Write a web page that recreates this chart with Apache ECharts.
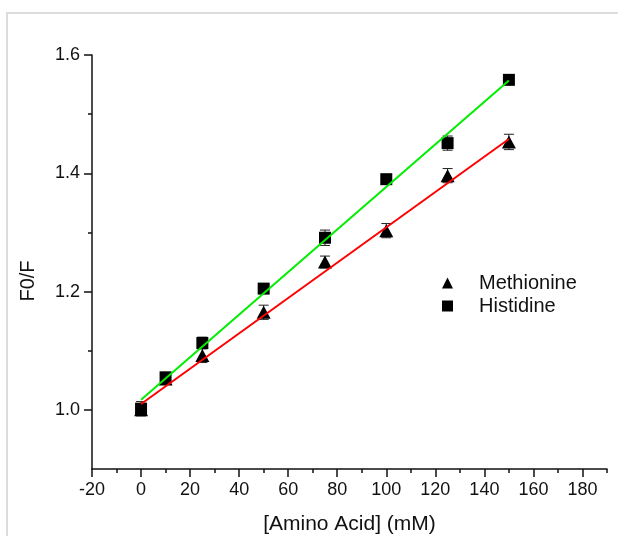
<!DOCTYPE html>
<html>
<head>
<meta charset="utf-8">
<script src="https://cdn.jsdelivr.net/npm/echarts@6/dist/echarts.min.js"></script>
<style>
  html, body { margin: 0; padding: 0; background: #fff; }
  #chart { width: 618px; height: 536px; }
</style>
</head>
<body>
<div id="chart"></div>
<script>
// concentrations (mM)
var conc = [0, 10, 25, 50, 75, 100, 125, 150];
var methionine = [1.0, 1.052, 1.092, 1.165, 1.250, 1.303, 1.396, 1.453];
var methErr = [0.010, 0.008, 0.012, 0.012, 0.010, 0.012, 0.012, 0.013];
var histidine = [1.002, 1.055, 1.113, 1.205, 1.291, 1.390, 1.451, 1.558];
var histErr = [0.012, 0.008, 0.010, 0.008, 0.013, 0.007, 0.012, 0.006];

// linear fits, drawn between the end concentrations
var fitX = [0, 150];
var methFit = [1.010, 1.458];
var histFit = [1.017, 1.557];

// tick values
var xMajor = [-20, 0, 20, 40, 60, 80, 100, 120, 140, 160, 180];
var xMinor = [-10, 10, 30, 50, 70, 90, 110, 130, 150, 170, 190];
var yMajor = [1.0, 1.2, 1.4, 1.6];
var yMinor = [1.1, 1.3, 1.5];

var font = '"Liberation Sans", Arial, sans-serif';
var chart = echarts.init(document.getElementById('chart'));

function pairs(xs, ys) {
    return xs.map(function (x, i) { return [x, ys[i]]; });
}
function errData(xs, ys, es) {
    return xs.map(function (x, i) { return [x, ys[i] - es[i], ys[i] + es[i]]; });
}
function errorBars(params, api) {
    var lo = api.coord([api.value(0), api.value(1)]);
    var hi = api.coord([api.value(0), api.value(2)]);
    var w = 5;
    var st = { stroke: '#222', lineWidth: 1 };
    return {
        type: 'group',
        children: [
            { type: 'line', shape: { x1: lo[0], y1: lo[1], x2: hi[0], y2: hi[1] }, style: st },
            { type: 'line', shape: { x1: lo[0] - w, y1: lo[1], x2: lo[0] + w, y2: lo[1] }, style: st },
            { type: 'line', shape: { x1: hi[0] - w, y1: hi[1], x2: hi[0] + w, y2: hi[1] }, style: st }
        ]
    };
}

var axisLine = { onZero: false, lineStyle: { color: '#111', width: 1.5 } };
var labelStyle = { color: '#111', fontFamily: font, fontSize: 18 };
var tickLine = { color: '#111', width: 1.5 };

chart.setOption({
    backgroundColor: '#fff',
    animation: false,
    grid: { left: 92, right: 11, top: 55, bottom: 67, outerBoundsMode: 'none' },
    graphic: [
        {
            type: 'rect', z: -1,
            shape: { x: 7, y: 13, width: 700, height: 600 },
            style: { fill: null, stroke: '#dcdcdc', lineWidth: 2 }
        },
        {
            type: 'text', x: 28, y: 281, rotation: Math.PI / 2,
            style: {
                text: 'F0/F', fill: '#111', font: '20px ' + font,
                align: 'center', verticalAlign: 'middle'
            }
        }
    ],
    legend: {
        orient: 'vertical',
        left: 437, top: 268,
        itemWidth: 11, itemHeight: 11, itemGap: 3,
        data: [
            { name: 'Methionine', icon: 'triangle' },
            { name: 'Histidine', icon: 'rect' }
        ],
        textStyle: { color: '#111', fontFamily: font, fontSize: 20, padding: [0, 0, 0, 21] }
    },
    xAxis: [{
        type: 'value', min: -20, max: 190,
        name: '[Amino Acid] (mM)', nameLocation: 'middle', nameGap: 45,
        nameTextStyle: { color: '#111', fontFamily: font, fontSize: 21 },
        axisLine: axisLine,
        axisTick: { customValues: xMajor, length: 8, lineStyle: tickLine },
        axisLabel: Object.assign({ customValues: xMajor, margin: 12 }, labelStyle),
        splitLine: { show: false }
    }, {
        type: 'value', min: -20, max: 190, position: 'bottom',
        axisLine: { show: false, onZero: false },
        axisTick: { customValues: xMinor, length: 4, lineStyle: tickLine },
        axisLabel: { show: false },
        splitLine: { show: false }
    }],
    yAxis: [{
        type: 'value', min: 0.9, max: 1.6,
        axisLine: axisLine,
        axisTick: { customValues: yMajor, length: 8, lineStyle: tickLine },
        axisLabel: Object.assign({
            customValues: yMajor, margin: 12,
            formatter: function (v) { return v.toFixed(1); }
        }, labelStyle),
        splitLine: { show: false }
    }, {
        type: 'value', min: 0.9, max: 1.6, position: 'left',
        axisLine: { show: false, onZero: false },
        axisTick: { customValues: yMinor, length: 4, lineStyle: tickLine },
        axisLabel: { show: false },
        splitLine: { show: false }
    }],
    series: [
        {
            name: 'Methionine fit', type: 'line', data: pairs(fitX, methFit),
            symbol: 'none', lineStyle: { color: '#ff0000', width: 2 }, z: 3
        },
        {
            name: 'Histidine fit', type: 'line', data: pairs(fitX, histFit),
            symbol: 'none', lineStyle: { color: '#00ee00', width: 2 }, z: 3
        },
        {
            name: 'meth err', type: 'custom', renderItem: errorBars,
            data: errData(conc, methionine, methErr), z: 1
        },
        {
            name: 'hist err', type: 'custom', renderItem: errorBars,
            data: errData(conc, histidine, histErr), z: 1
        },
        {
            name: 'Methionine', type: 'scatter', data: pairs(conc, methionine),
            symbol: 'triangle', symbolSize: [14, 13],
            itemStyle: { color: '#000', opacity: 1 }, z: 2
        },
        {
            name: 'Histidine', type: 'scatter', data: pairs(conc, histidine),
            symbol: 'rect', symbolSize: 12,
            itemStyle: { color: '#000', opacity: 1 }, z: 2
        }
    ]
});
</script>
</body>
</html>
